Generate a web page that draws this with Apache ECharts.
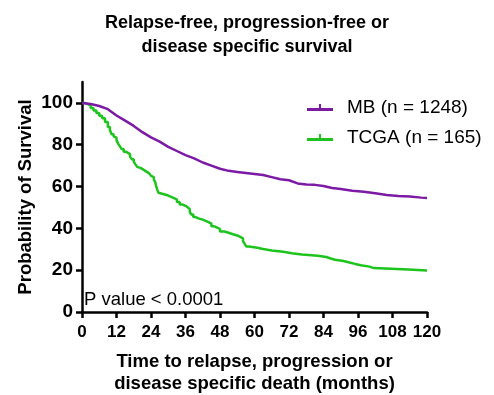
<!DOCTYPE html>
<html>
<head>
<meta charset="utf-8">
<script src="https://cdn.jsdelivr.net/npm/echarts@6/dist/echarts.min.js"></script>
<style>html,body{margin:0;padding:0;background:#fff}#c{width:494px;height:395px}</style>
</head>
<body>
<div id="c"></div>
<script>
var xTicks = [0, 12, 24, 36, 48, 60, 72, 84, 96, 108, 120];
var yTicks = [0, 20, 40, 60, 80, 100];
var mbTime = [0,3,6,9,12,15,18,21,24,27,30,33,36,39,42,45,48,51,54,57,60,63,66,69,72,75,78,81,84,87,90,94,98,102,106,110,114,118,120];
var mbSurv = [100,99.5,98.5,97,94,91.5,89,86,83.5,81.5,79,77,75,73.5,71.5,70,68.5,67.5,67,66.5,66,65.5,64.5,63.5,63,61.5,61,60.8,60.3,59.3,58.8,58,57.5,56.8,56,55.5,55.2,54.7,54.5];
var tcgaTime = [0,1,2,3,4,5,6,7,8,9,9.7,10.3,11,11.5,12,12.6,13.2,13.8,14.5,15.2,16,16.7,17.3,18,18.6,19.2,19.8,20.5,21.2,22,22.7,23.4,24,24.5,25,25.5,25.8,26.2,26.6,27.2,28.5,30,31,32,33,34,35,36,36.8,37.5,38,38.7,39.5,40.5,42,43,44,45,46,47,48,49.5,51,52.5,54,55,56,56.6,57.2,58,61,63,66,70,73,76.5,82,85,86.5,88,91,93,95,97,100,101.5,113.5,120];
var tcgaSurv = [100,99.4,98.8,97.6,96.4,95.2,93.9,92.7,90.9,88.5,87,85,84,83.4,82.2,80.4,79.2,77.9,76.7,76.1,75.5,74.3,73.1,71.9,70.6,69.4,68.8,68.2,67.5,66.9,66.3,65.7,65.1,64.5,63.3,62,60.2,58.4,57,56.3,55.7,55.1,54.5,53.8,52.6,51.4,50.8,50,49.2,47.9,46.6,45.4,44.8,44.2,43.6,43,42.3,41,40.4,39.7,38.5,37.9,37.2,36.6,35.9,35.2,33.9,32.6,31.3,30.7,30.1,29.4,28.8,28.1,27.5,26.9,26.3,25.6,25,24.4,23.7,23,22.4,21.7,21,20.3,19.8,19.8];

function pairs(t, v) { return t.map(function (x, i) { return [x, v[i]]; }); }

var FONT = 'Liberation Sans, Arial, sans-serif';
var purple = '#7c1aa6';
var green = '#1ec41e';
var iconPath = 'path://M0,4 L12,4 L12,0 L14,0 L14,4 L26,4 L26,7 L0,7 Z';

var chart = echarts.init(document.getElementById('c'));
chart.setOption({
  animation: false,
  title: {
    text: 'Relapse-free, progression-free or\ndisease specific survival',
    left: 'center', top: 6,
    textStyle: { fontFamily: FONT, fontWeight: 'bold', fontSize: 18, lineHeight: 24, color: '#000' }
  },
  legend: {
    orient: 'vertical', left: 302, top: 93, itemGap: 11,
    itemWidth: 26, itemHeight: 7,
    textStyle: { fontFamily: FONT, fontSize: 19, color: '#000', padding: [0, 0, 0, 9] },
    data: [
      { name: 'MB (n = 1248)', icon: iconPath, itemStyle: { color: purple } },
      { name: 'TCGA (n = 165)', icon: iconPath, itemStyle: { color: green } }
    ]
  },
  grid: { left: 82, right: 67, top: 82, bottom: 83, outerBoundsMode: 'none', containLabel: false },
  xAxis: {
    type: 'value', min: 0, max: 120, interval: 12,
    name: 'Time to relapse, progression or\ndisease specific death (months)',
    nameLocation: 'middle', nameGap: 39, nameMoveOverlap: false,
    nameTextStyle: { fontFamily: FONT, fontWeight: 'bold', fontSize: 18.5, lineHeight: 22, color: '#000' },
    axisLine: { lineStyle: { color: '#000', width: 2.5 } },
    axisTick: { length: 6, lineStyle: { color: '#000', width: 2.5 } },
    axisLabel: { margin: 12, fontFamily: FONT, fontWeight: 'bold', fontSize: 17, color: '#000',
      customValues: xTicks },
    splitLine: { show: false }
  },
  yAxis: {
    type: 'value', min: 0, max: 110, interval: 20,
    name: 'Probability of Survival',
    nameLocation: 'middle', nameGap: 47, nameMoveOverlap: false,
    nameTextStyle: { fontFamily: FONT, fontWeight: 'bold', fontSize: 18.5, color: '#000' },
    axisLine: { show: true, lineStyle: { color: '#000', width: 2.5 } },
    axisTick: { show: true, length: 6, lineStyle: { color: '#000', width: 2.5 }, customValues: yTicks },
    axisLabel: { margin: 9, fontFamily: FONT, fontWeight: 'bold', fontSize: 19, color: '#000', customValues: yTicks },
    splitLine: { show: false }
  },
  graphic: [{
    type: 'text', left: 84, top: 290,
    style: { text: 'P value < 0.0001', font: '18.5px ' + FONT, fill: '#000' }
  }],
  series: [
    { name: 'MB (n = 1248)', type: 'line', data: pairs(mbTime, mbSurv), showSymbol: false, symbol: 'none',
      lineStyle: { color: purple, width: 2.5 }, itemStyle: { color: purple }, z: 3 },
    { name: 'TCGA (n = 165)', type: 'line', step: 'end', data: pairs(tcgaTime, tcgaSurv), showSymbol: false, symbol: 'none',
      lineStyle: { color: green, width: 2.5 }, itemStyle: { color: green }, z: 2 }
  ]
});
</script>
</body>
</html>
